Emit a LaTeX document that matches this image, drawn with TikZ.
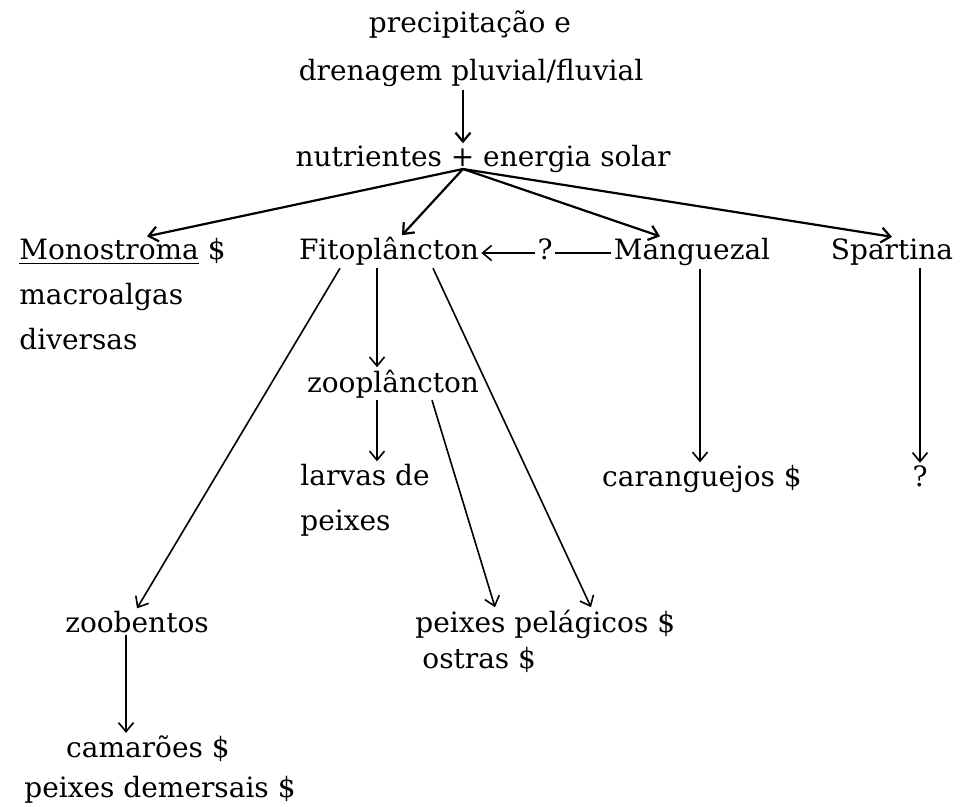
\documentclass[tikz,border=0pt]{standalone}
\usepackage{fontspec}
\setmainfont{DejaVu Serif}
\usetikzlibrary{arrows.meta}

\begin{document}
\begin{tikzpicture}[x=0.5pt, y=-0.5pt, >={Straight Barb[length=4.5pt, width=7.5pt]},
  txt/.style={inner sep=1pt, font=\fontsize{14}{22.5}\selectfont},
  flow/.style={->, line width=0.8pt},
  mainflow/.style={flow, line width=1.1pt}]
  \useasboundingbox (0,0) rectangle (962,807);
  % source and nutrients
  \node[txt, anchor=base] (prec1) at (470,33) {precipitação e};
  \node[txt, anchor=base] (prec2) at (471,81) {drenagem pluvial/fluvial};
  \node[txt, anchor=base] (nutr) at (483,167) {nutrientes + energia solar};
  \coordinate (hub) at ([xshift=-10pt, yshift=-1pt]nutr.base);
  % producers
  \node[txt, anchor=base west] (mono) at (17,260) {\underline{Monostroma} \$};
  \node[txt, anchor=base west, align=left] (algas) at (17,350) {macroalgas\\diversas}; % base = last line
  \node[txt, anchor=base] (fito) at (389,260) {Fitoplâncton};
  \node[txt, anchor=base] (q) at (545,260) {?};
  \node[txt, anchor=base] (mang) at (692,260) {Manguezal};
  \node[txt, anchor=base] (spart) at (892,260) {Spartina};
  % consumers
  \node[txt, anchor=base] (zoop) at (393,392) {zooplâncton};
  \node[txt, anchor=base west, align=left] (larv) at (298,530) {larvas de\\peixes};
  \node[txt, anchor=base] (carang) at (702,486) {caranguejos \$};
  \node[txt, anchor=base] (qs) at (920,486) {?};
  \node[txt, anchor=base] (zoob) at (137,632) {zoobentos};
  \node[txt, anchor=base west] (pel) at (413,632) {peixes pelágicos \$};
  \node[txt, anchor=base west] (ostras) at (420,668) {ostras \$};
  \node[txt, anchor=base] (cama) at (148,757) {camarões \$};
  \node[txt, anchor=base] (demers) at (160,797) {peixes demersais \$};

  \draw[mainflow] (prec2.south -| hub) -- (nutr.north -| hub);
  \draw[mainflow] (hub) -- ([xshift=65pt]mono.north west);
  \draw[mainflow] (hub) -- ([xshift=6.5pt]fito.north);
  \draw[mainflow] (hub) -- ([xshift=-16pt]mang.north);
  \draw[mainflow] (hub) -- (spart.north);
  \draw[flow] ([yshift=3.5pt]q.base west) -- ([yshift=3.5pt]fito.base east);
  \draw[line width=0.8pt] ([yshift=3.5pt]mang.base west) -- ([yshift=3.5pt]q.base east);
  \draw[flow] ([xshift=-24.5pt]fito.south) -- (zoob.north);
  \draw[flow] ([xshift=-6pt]fito.south) -- ([xshift=-8pt]zoop.north);
  \draw[flow] ([xshift=22pt]fito.south) -- ([xshift=89pt]pel.north west);
  \draw[flow] ([xshift=-8pt]zoop.south) -- ([xshift=39.5pt]larv.north west);
  \draw[flow] ([xshift=19.5pt]zoop.south) -- ([xshift=41pt]pel.north west);
  \draw[flow] ([xshift=4pt]mang.south) -- ([xshift=-1pt]carang.north);
  \draw[flow] ([xshift=14pt]spart.south) -- (qs.north);
  \draw[flow] ([xshift=-5.5pt]zoob.south) -- ([xshift=-11pt]cama.north);
\end{tikzpicture}
\end{document}
